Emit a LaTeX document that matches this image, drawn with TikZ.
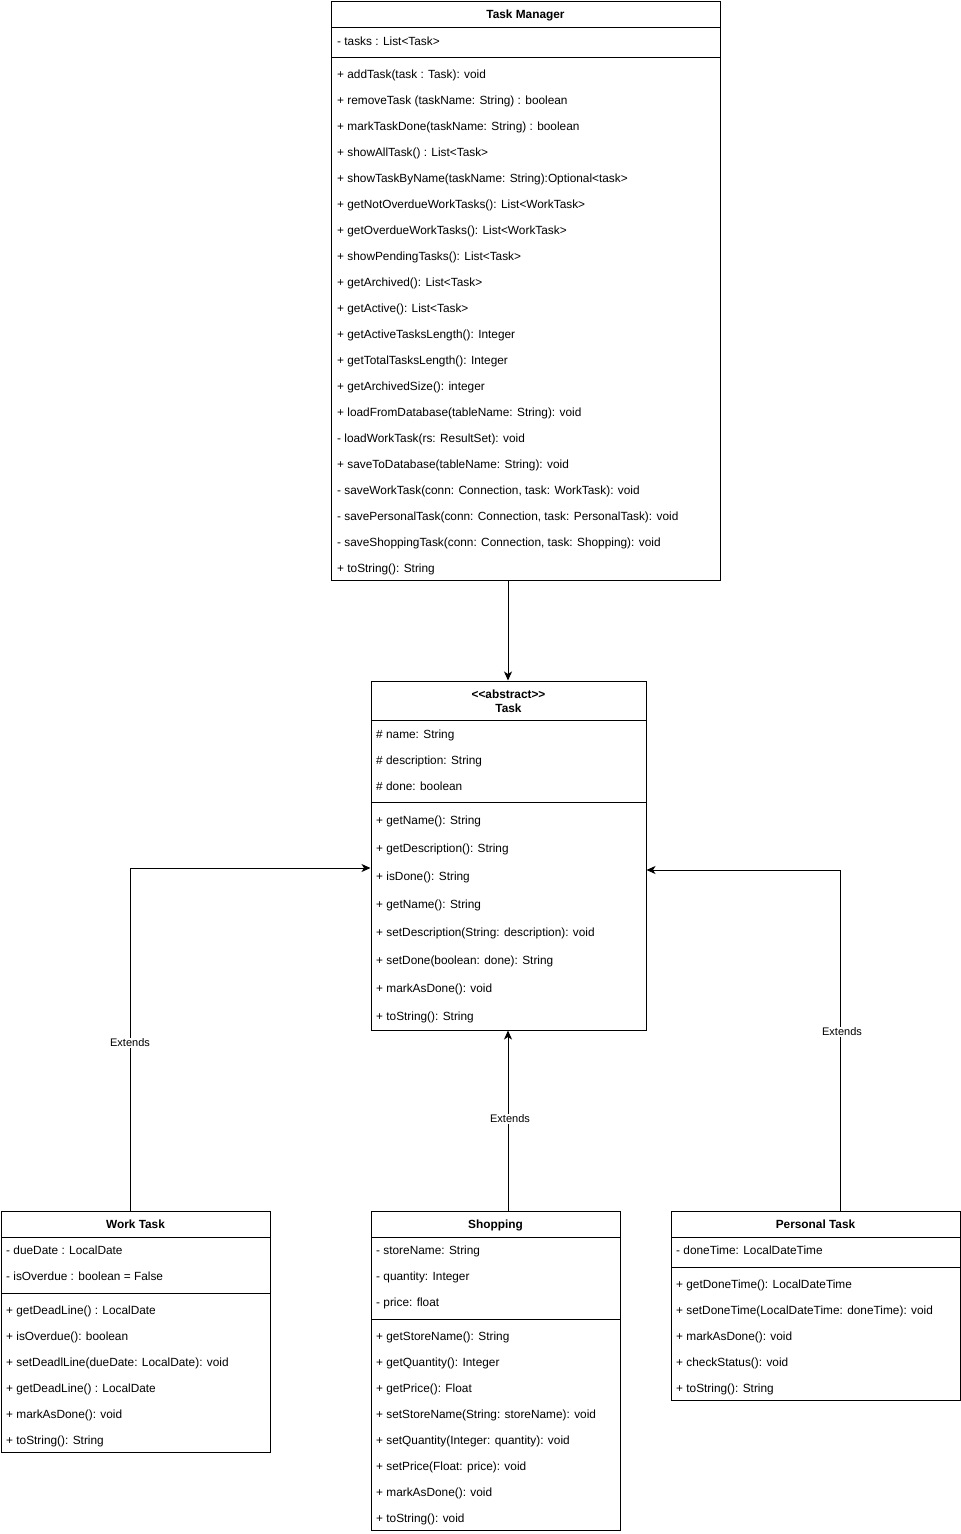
\documentclass[tikz,border=0pt]{standalone}
\usepackage{fontspec}
\setmainfont{Liberation Sans}
\usetikzlibrary{arrows.meta}
\begin{document}
\begin{tikzpicture}[x=1pt,y=-1pt,
  clsbox/.style={draw, line width=1pt, inner sep=0, fill=white},
  sepline/.style={line width=1pt},
  txt/.style={anchor=base west, inner sep=0, font=\fontsize{11.85}{14}\selectfont},
  ttl/.style={anchor=base, inner sep=0, font=\fontsize{11.85}{14}\selectfont\bfseries},
  lbl/.style={fill=white, inner sep=1pt, font=\fontsize{11}{13}\selectfont},
  arr/.style={line width=1pt, -{Stealth[length=9pt,width=8pt,inset=2.5pt]}}]
\useasboundingbox (0,0) rectangle (961,1534);

% ---------- Task Manager ----------
\node[clsbox, minimum width=389, minimum height=579] (tm) at (525.5,290.5) {};
\draw[sepline] (331,27) -- (720,27);
\draw[sepline] (331,57) -- (720,57);
\node[ttl] (tm-t) at (525.5,18) {Task Manager};
\node[txt] (tm-a1) at (337,45) {- tasks : List<Task>};
\foreach \t [count=\i] in {
  {+ addTask(task : Task): void},
  {+ removeTask (taskName: String) : boolean},
  {+ markTaskDone(taskName: String) : boolean},
  {+ showAllTask() : List<Task>},
  {+ showTaskByName(taskName: String):Optional<task>},
  {+ getNotOverdueWorkTasks(): List<WorkTask>},
  {+ getOverdueWorkTasks(): List<WorkTask>},
  {+ showPendingTasks(): List<Task>},
  {+ getArchived(): List<Task>},
  {+ getActive(): List<Task>},
  {+ getActiveTasksLength(): Integer},
  {+ getTotalTasksLength(): Integer},
  {+ getArchivedSize(): integer},
  {+ loadFromDatabase(tableName: String): void},
  {- loadWorkTask(rs: ResultSet): void},
  {+ saveToDatabase(tableName: String): void},
  {- saveWorkTask(conn: Connection, task: WorkTask): void},
  {- savePersonalTask(conn: Connection, task: PersonalTask): void},
  {- saveShoppingTask(conn: Connection, task: Shopping): void},
  {+ toString(): String}}
  \node[txt] (tm-m\i) at (337,52.5+26*\i) {\t};

% ---------- Task ----------
\node[clsbox, minimum width=275, minimum height=349] (task) at (508.5,855.5) {};
\draw[sepline] (371,720) -- (646,720);
\draw[sepline] (371,802) -- (646,802);
\node[ttl] (task-s) at (508.5,698) {<{}<abstract>{}>};
\node[ttl] (task-t) at (508.5,712) {Task};
\foreach \t [count=\i] in {{\# name: String},{\# description: String},{\# done: boolean}}
  \node[txt] (task-a\i) at (376,712.5+26*\i) {\t};
\foreach \t [count=\i] in {
  {+ getName(): String},
  {+ getDescription(): String},
  {+ isDone(): String},
  {+ getName(): String},
  {+ setDescription(String: description): void},
  {+ setDone(boolean: done): String},
  {+ markAsDone(): void},
  {+ toString(): String}}
  \node[txt] (task-m\i) at (376,796.5+28*\i) {\t};

% ---------- Work Task ----------
\node[clsbox, minimum width=269, minimum height=241] (wt) at (135.5,1331.5) {};
\draw[sepline] (1,1237) -- (270,1237);
\draw[sepline] (1,1293) -- (270,1293);
\node[ttl] (wt-t) at (135.5,1228) {Work Task};
\foreach \t [count=\i] in {{- dueDate : LocalDate},{- isOverdue : boolean = False}}
  \node[txt] (wt-a\i) at (6,1228.5+26*\i) {\t};
\foreach \t [count=\i] in {
  {+ getDeadLine() : LocalDate},
  {+ isOverdue(): boolean},
  {+ setDeadlLine(dueDate: LocalDate): void},
  {+ getDeadLine() : LocalDate},
  {+ markAsDone(): void},
  {+ toString(): String}}
  \node[txt] (wt-m\i) at (6,1288.5+26*\i) {\t};

% ---------- Shopping ----------
\node[clsbox, minimum width=249, minimum height=319] (sh) at (495.5,1370.5) {};
\draw[sepline] (371,1237) -- (620,1237);
\draw[sepline] (371,1319) -- (620,1319);
\node[ttl] (sh-t) at (495.5,1228) {Shopping};
\foreach \t [count=\i] in {{- storeName: String},{- quantity: Integer},{- price: float}}
  \node[txt] (sh-a\i) at (376,1228.5+26*\i) {\t};
\foreach \t [count=\i] in {
  {+ getStoreName(): String},
  {+ getQuantity(): Integer},
  {+ getPrice(): Float},
  {+ setStoreName(String: storeName): void},
  {+ setQuantity(Integer: quantity): void},
  {+ setPrice(Float: price): void},
  {+ markAsDone(): void},
  {+ toString(): void}}
  \node[txt] (sh-m\i) at (376,1314.5+26*\i) {\t};

% ---------- Personal Task ----------
\node[clsbox, minimum width=289, minimum height=189] (pt) at (815.5,1305.5) {};
\draw[sepline] (671,1237) -- (960,1237);
\draw[sepline] (671,1267) -- (960,1267);
\node[ttl] (pt-t) at (815.5,1228) {Personal Task};
\node[txt] (pt-a1) at (676,1254.5) {- doneTime: LocalDateTime};
\foreach \t [count=\i] in {
  {+ getDoneTime(): LocalDateTime},
  {+ setDoneTime(LocalDateTime: doneTime): void},
  {+ markAsDone(): void},
  {+ checkStatus(): void},
  {+ toString(): String}}
  \node[txt] (pt-m\i) at (676,1262.5+26*\i) {\t};

% ---------- Connectors ----------
\coordinate (tmc) at (508,0);
\coordinate (wtc) at (130,868);
\coordinate (ptc) at (840,870);
\draw[arr] (tm.south -| tmc) -- (task.north -| tmc);
\draw[arr] (wt.north -| wtc) |- (task.west |- wtc);
\draw[arr] (sh.north -| tmc) -- (task.south -| tmc);
\draw[arr] (pt.north -| ptc) |- (task.east |- ptc);
\node[lbl] (l-wt) at (130,1043) {Extends};
\node[lbl] (l-sh) at (510,1119) {Extends};
\node[lbl] (l-pt) at (842,1032) {Extends};
\end{tikzpicture}
\end{document}
